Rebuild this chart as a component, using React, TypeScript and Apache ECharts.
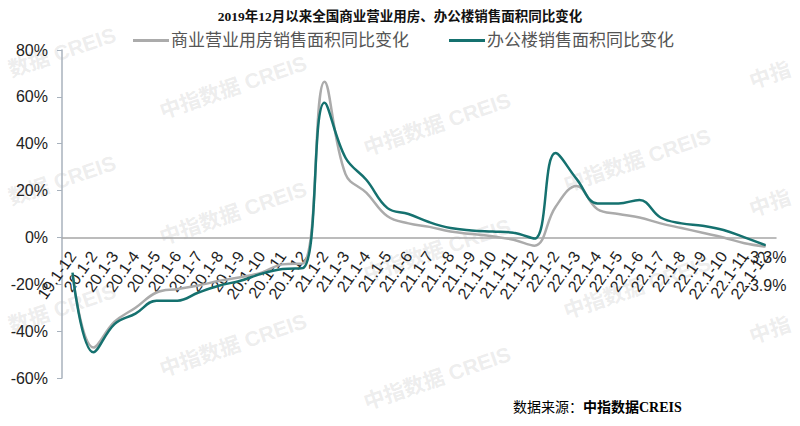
import React, { useEffect, useRef } from "react";
import * as echarts from "echarts";

const categories = [
  "19.1-12", "20.1-2", "20.1-3", "20.1-4", "20.1-5", "20.1-6", "20.1-7", "20.1-8", "20.1-9", "20.1-10", "20.1-11", "20.1-12",
  "21.1-2", "21.1-3", "21.1-4", "21.1-5", "21.1-6", "21.1-7", "21.1-8", "21.1-9", "21.1-10", "21.1-11", "21.1-12",
  "22.1-2", "22.1-3", "22.1-4", "22.1-5", "22.1-6", "22.1-7", "22.1-8", "22.1-9", "22.1-10", "22.1-11", "22.1-12",
];

const commercial = [
  -16, -47, -36, -30, -23.5, -22, -20.5, -18.5, -17, -15, -11.5, -11,
  66.5, 27, 19, 9, 6, 4.5, 2.5, 1.5, 0.5, -1, -3.5,
  13, 22, 12, 10, 8.5, 6, 4, 2, 0, -2.5, -3.9,
];

const office = [
  -15, -49, -37, -32.5, -27, -27, -23.5, -20.5, -18.5, -15.5, -13.5, -13,
  57.5, 34, 24.5, 12.5, 10, 6.5, 4, 3, 2.5, 2, -0.5,
  36, 25, 14.5, 14.5, 16, 8.5, 6, 5, 3.2, 0, -3.3,
];

const yTicks = { min: -60, max: 80, interval: 20 };

const seriesNames = ["商业营业用房销售面积同比变化", "办公楼销售面积同比变化"];

const watermarks: [number, number, string][] = [
  [62, 52, "数据 CREIS"], [62, 180, "数据 CREIS"], [62, 308, "数据 CREIS"],
  [233, 87, "中指数据 CREIS"], [233, 213, "中指数据 CREIS"], [233, 345, "中指数据 CREIS"],
  [437, 124, "中指数据 CREIS"], [437, 250, "中指数据 CREIS"], [437, 378, "中指数据 CREIS"],
  [637, 160, "中指数据 CREIS"], [637, 287, "中指数据 CREIS"],
  [770, 75, "中指"], [770, 203, "中指"], [770, 330, "中指"],
];

const SANS = "'Liberation Sans', Arial, 'Noto Sans CJK SC', sans-serif";
const SERIF = "'Liberation Serif', 'Times New Roman', 'Noto Sans CJK SC', serif";

export default function App() {
  const ref = useRef<HTMLDivElement>(null);
  useEffect(() => {
    if (!ref.current) return;
    const chart = echarts.init(ref.current, undefined, { renderer: "svg" });
    const last = categories.length - 1;
    const withEndLabel = (arr: number[], color: string, distance: number) =>
      arr.map((v, i) =>
        i === last
          ? {
              value: v,
              symbol: "circle",
              symbolSize: 1,
              itemStyle: { color },
              label: {
                show: true,
                position: "bottom",
                distance,
                formatter: (p: any) => `${p.value}%`,
                fontSize: 16,
                color: "#222",
                fontFamily: SANS,
              },
            }
          : v
      );
    chart.setOption({
      animation: false,
      backgroundColor: "#fff",
      title: {
        text: "2019年12月以来全国商业营业用房、办公楼销售面积同比变化",
        left: "center",
        top: 5,
        textStyle: { fontSize: 13.5, fontWeight: "bold", color: "#111", fontFamily: SERIF },
      },
      legend: {
        top: 27,
        left: 128,
        itemWidth: 36,
        itemHeight: 3,
        itemGap: 40,
        icon: "rect",
        textStyle: { fontSize: 17, color: "#555", fontFamily: SANS, padding: [0, 0, 0, -3] },
        data: seriesNames,
      },
      grid: { left: 62, right: 24, top: 50, bottom: 48 },
      xAxis: {
        type: "category",
        data: categories,
        boundaryGap: true,
        axisLine: { show: true, onZero: true, lineStyle: { color: "#a6a6a6", width: 1.5 } },
        axisTick: { show: false },
        axisLabel: {
          interval: 0,
          rotate: 55,
          fontSize: 16,
          color: "#222",
          fontFamily: SANS,
          margin: -125,
        },
        splitLine: { show: false },
      },
      yAxis: {
        type: "value",
        min: yTicks.min,
        max: yTicks.max,
        interval: yTicks.interval,
        axisLine: { show: true, lineStyle: { color: "#a8b2bd", width: 1.5 } },
        axisTick: { show: true, inside: false, length: 5, lineStyle: { color: "#a8b2bd" } },
        axisLabel: {
          formatter: "{value}%",
          fontSize: 16,
          color: "#222",
          fontFamily: SANS,
          margin: 14,
        },
        splitLine: { show: false },
      },
      graphic: [
        ...watermarks.map(([x, y, t]) => ({
          type: "text",
          x,
          y,
          rotation: 0.33,
          z: 0,
          silent: true,
          style: {
            text: t,
            fill: "rgba(150,150,150,0.18)",
            font: `bold 21px ${SANS}`,
            align: "center",
            verticalAlign: "middle",
          },
        })),
        {
          type: "text",
          left: 513,
          top: 400,
          z: 10,
          style: {
            text: "{a|数据来源：}{b|中指数据}{c|CREIS}",
            rich: {
              a: { fontSize: 14, color: "#333", fontFamily: SANS },
              b: { fontSize: 14, color: "#4a5f8e", fontWeight: "bold", fontFamily: SANS },
              c: { fontSize: 14, color: "#4a5f8e", fontWeight: "bold", fontFamily: SERIF },
            },
          },
        },
      ],
      series: [
        {
          name: seriesNames[0],
          type: "line",
          smooth: 0.4,
          symbol: "none",
          z: 3,
          lineStyle: { color: "#ababab", width: 2.5 },
          itemStyle: { color: "#ababab" },
          data: withEndLabel(commercial, "#ababab", 30),
        },
        {
          name: seriesNames[1],
          type: "line",
          smooth: 0.4,
          symbol: "none",
          z: 4,
          lineStyle: { color: "#15716f", width: 2.5 },
          itemStyle: { color: "#15716f" },
          data: withEndLabel(office, "#15716f", 4),
        },
      ],
    });
    return () => chart.dispose();
  }, []);
  return (
    <div
      ref={ref}
      style={{ position: "fixed", left: 0, top: 0, width: 800, height: 426 }}
    />
  );
}
